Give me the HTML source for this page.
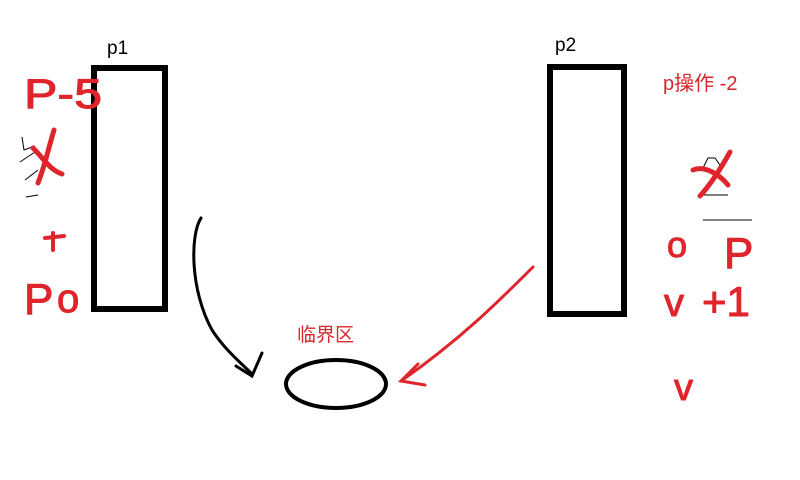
<!DOCTYPE html>
<html><head><meta charset="utf-8"><style>
body{margin:0;background:#fff}
svg{display:block}
.hw{fill:#e0242c;font-family:"Liberation Sans",sans-serif;stroke:#e0242c;stroke-width:1;stroke-linejoin:round}
.lbl{font-family:"Liberation Sans","Noto Sans CJK SC",sans-serif}
</style></head><body>
<svg width="800" height="480" viewBox="0 0 800 480">
<rect x="0" y="0" width="800" height="480" fill="#fff"/>
<g>
<rect x="94" y="68" width="71" height="241" fill="none" stroke="#000" stroke-width="6"/>
<text class="lbl" x="107" y="54" font-size="19" fill="#000">p1</text>
</g>
<g>
<rect x="550" y="67" width="74" height="247" fill="none" stroke="#000" stroke-width="6"/>
<text class="lbl" x="555" y="51" font-size="19" fill="#000">p2</text>
</g>
<text class="lbl" x="663" y="90" font-size="20" fill="#d9252b">p操作 -2</text>
<text class="lbl" x="297" y="341" font-size="19" fill="#d9252b">临界区</text>
<ellipse cx="336" cy="384" rx="50" ry="24" fill="none" stroke="#000" stroke-width="4"/>
<g fill="none" stroke="#000" stroke-width="3" stroke-linecap="round">
<path d="M201 218 C190 235 190 290 212 330 C225 350 240 362 252 374"/>
<path d="M236 366 L252 376 L262 353"/>
</g>
<g fill="none" stroke="#e0242c" stroke-width="3" stroke-linecap="round">
<path d="M533 267 C500 300 460 340 401 381"/>
<path d="M418 364 L401 381 L425 385"/>
</g>
<g>
<text class="hw" x="24" y="108" font-size="42" textLength="78" lengthAdjust="spacingAndGlyphs">P-5</text>
<path d="M22 137 L24 150 L35 146 M20 162 L38 150 M25 180 L38 170 M26 197 L38 195" stroke="#000" stroke-width="1" fill="none"/>
<path d="M33 148 C45 160 50 170 62 174 M54 130 C48 150 45 165 38 183" stroke="#e0242c" stroke-width="5" fill="none" stroke-linecap="round"/>
<path d="M53 233 L53 250 M45 238 L64 236" stroke="#e0242c" stroke-width="4" fill="none" stroke-linecap="round"/>
<text class="hw" x="24" y="314" font-size="44">P</text>
<text class="hw" x="57" y="312" font-size="40">o</text>
</g>
<g>
<path d="M703 168 L708 158 L715 158 L720 165 L703 195 M703 195 L728 195" stroke="#000" stroke-width="1" fill="none"/>
<path d="M693 170 C705 165 720 175 728 185 M730 152 C720 170 710 185 700 196" stroke="#e0242c" stroke-width="5" fill="none" stroke-linecap="round"/>
<path d="M703 220 L752 220" stroke="#000" stroke-width="1"/>
<text class="hw" x="667" y="257" font-size="36">o</text>
<text class="hw" x="724" y="268" font-size="44">P</text>
<text class="hw" x="664" y="316" font-size="40">v</text>
<text class="hw" x="702" y="316" font-size="42">+1</text>
<text class="hw" x="674" y="400" font-size="38">v</text>
</g>
</svg>
</body></html>
